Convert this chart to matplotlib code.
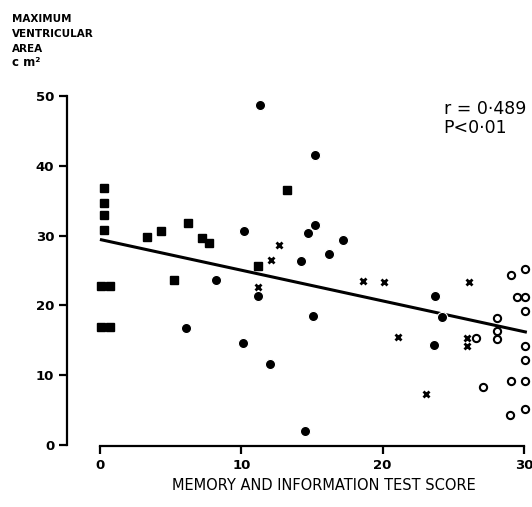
import matplotlib
matplotlib.use("Agg")
import matplotlib.pyplot as plt

# data
sq_x = [0.3, 0.3, 0.3, 0.3, 0.1, 0.7, 0.1, 0.7, 3.3, 4.3, 6.2, 7.2, 7.7, 5.2, 11.2, 13.2]
sq_y = [36.8, 34.7, 32.9, 30.8, 22.8, 22.8, 16.9, 16.9, 29.8, 30.7, 31.8, 29.6, 28.9, 23.7, 25.6, 36.5]

dot_x = [11.3, 15.2, 10.2, 15.2, 14.7, 17.2, 16.2, 14.2, 8.2, 6.1, 11.2, 15.1, 10.1, 12.0, 14.5, 23.7, 24.2, 23.6]
dot_y = [48.7, 41.5, 30.6, 31.5, 30.4, 29.4, 27.4, 26.4, 23.7, 16.7, 21.3, 18.5, 14.6, 11.6, 2.0, 21.3, 18.3, 14.3]

cross_x = [12.7, 12.1, 11.2, 18.6, 20.1, 21.1, 26.1, 26.0, 26.0, 23.1]
cross_y = [28.6, 26.5, 22.7, 23.5, 23.4, 15.5, 23.3, 15.3, 14.2, 7.3]

open_x = [26.6, 27.1, 28.1, 28.1, 28.1, 29.1, 30.1, 29.5, 30.1, 30.1, 30.1, 30.1, 29.1, 30.1, 29.0, 30.1]
open_y = [15.3, 8.3, 18.2, 16.3, 15.2, 24.3, 25.2, 21.2, 21.2, 19.2, 14.2, 12.2, 9.2, 9.2, 4.3, 5.2]

line_x = [0.1, 30.1]
line_y = [29.4, 16.2]

x_ticks = [0, 10, 20, 30]
y_ticks = [0, 10, 20, 30, 40, 50]

fig = plt.figure(figsize=(5.32, 5.07), dpi=100)
ax = fig.add_axes([0.1216, 0.1154, 0.8739, 0.709])

ax.plot(line_x, line_y, color="black", lw=2.2, zorder=2)
ax.plot(sq_x, sq_y, "s", color="black", ms=5.4, ls="none", clip_on=False, zorder=3)
ax.plot(dot_x, dot_y, "o", color="black", ms=7.3, mec="white", mew=0.8, ls="none", clip_on=False, zorder=3)
ax.plot(cross_x, cross_y, "x", color="black", ms=5, mew=2, ls="none", clip_on=False, zorder=3)
ax.plot(open_x, open_y, "o", mfc="white", mec="black", ms=5.2, mew=1.5, ls="none", clip_on=False, zorder=3)

ax.set_xlim(-2.5, 30.4)
ax.set_ylim(-0.5, 51)

for s in ["top", "right"]:
    ax.spines[s].set_visible(False)
ax.spines["left"].set_position(("data", -2.35))
ax.spines["bottom"].set_position(("data", -0.15))
ax.spines["left"].set_bounds(0, 50)
ax.spines["bottom"].set_bounds(0, 30)
ax.spines["left"].set_linewidth(1.6)
ax.spines["bottom"].set_linewidth(1.6)

ax.set_xticks(x_ticks)
ax.set_yticks(y_ticks)
ax.tick_params(axis="both", length=6, width=1.6, labelsize=9.5, pad=3)
for lab in ax.get_xticklabels() + ax.get_yticklabels():
    lab.set_fontweight("bold")

ax.set_xlabel("MEMORY AND INFORMATION TEST SCORE", fontsize=10.5)
ax.xaxis.set_label_coords(0.558, -0.083)

fig.text(0.022, 0.972, "MAXIMUM\nVENTRICULAR\nAREA", fontsize=7.5, fontweight="bold",
         va="top", ha="left", linespacing=1.6)
fig.text(0.022, 0.876, "c m²", fontsize=8.5, fontweight="bold", va="center", ha="left")

ax.text(0.993, 0.945, "r = 0·489", transform=ax.transAxes, ha="right", va="center", fontsize=12.5)
ax.text(0.815, 0.892, "P<0·01", transform=ax.transAxes, ha="left", va="center", fontsize=12.5)

fig.savefig("out.png", dpi=100)
